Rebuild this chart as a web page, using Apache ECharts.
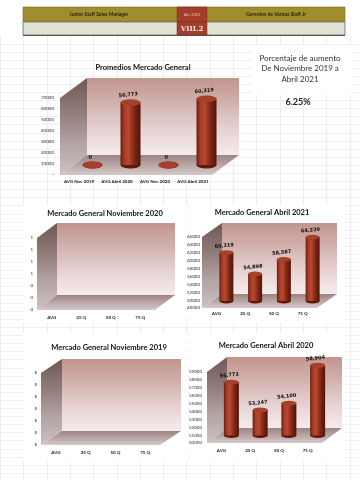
<!DOCTYPE html>
<html><head><meta charset="utf-8">
<script src="https://cdn.jsdelivr.net/npm/echarts@6/dist/echarts.min.js"></script>
<style>html,body{margin:0;padding:0;background:#fff}#c{width:360px;height:480px}</style>
</head><body><div id="c"></div>
<script>
// ---------- data ----------
const catsMain = ['AVG Nov 2019', 'AVG Abril 2020', 'AVG Nov 2020', 'AVG Abril 2021'];
const valsMain = [0, 56773, 0, 60319];
const catsQ = ['AVG', '25 Q', '50 Q', '75 Q'];
const valsNov2020 = [];
const valsAbr2021 = [60319, 54898, 58587, 64239];
const valsNov2019 = [];
const valsAbr2020 = [56773, 53247, 54100, 58904];
const headerLeft = 'Junior Staff Sales Manager';
const headerRight = 'Gerentes de Ventas Staff Jr';
const headerDate = 'Abr 2021';
const headerCode = 'VIII.2';
const boxLines = ['Porcentaje de aumento', 'De Noviembre 2019 a', 'Abril 2021'];
const boxValue = '6.25%';

const FONT = 'Lato, "Liberation Sans", sans-serif';
const chart = echarts.init(document.getElementById('c'), null, {renderer: 'canvas'});

const fmtInt = v => String(v);
const charts = [
  {title: 'Promedios Mercado General', tx: 143, ty: 68, L: 60, T: 98, R: 212, B: 175, dx: 27, dy: -20,
   cats: catsMain, vals: valsMain, min: 0, max: 70000, interval: 10000,
   fmt: v => v === 0 ? '-' : String(v), bw: 20, catMargin: 4, yMargin: 6},
  {title: 'Mercado General Noviembre 2020', tx: 105, ty: 214, L: 37, T: 238, R: 155, B: 310, dx: 20, dy: -15,
   cats: catsQ, vals: valsNov2020, min: 0, max: 1.2, interval: 0.2,
   fmt: v => String(Math.round(v)), bw: 14, catMargin: 5, yMargin: 4, white: [23, 205, 165, 118]},
  {title: 'Mercado General Abril 2021', tx: 262, ty: 213, L: 202, T: 237, R: 317, B: 308, dx: 20, dy: -14,
   cats: catsQ, vals: valsAbr2021, min: 48000, max: 66000, interval: 2000,
   fmt: fmtInt, bw: 14, catMargin: 3, yMargin: 2, white: [190, 205, 155, 118]},
  {title: 'Mercado General Noviembre 2019', tx: 109, ty: 348, L: 41, T: 373, R: 160, B: 445, dx: 21, dy: -14,
   cats: catsQ, vals: valsNov2019, min: 0, max: 6, interval: 1,
   fmt: v => '$', bw: 14, catMargin: 5, yMargin: 4, white: [23, 333, 165, 129]},
  {title: 'Mercado General Abril 2020', tx: 266, ty: 346, L: 207, T: 372, R: 322, B: 443, dx: 20, dy: -15,
   cats: catsQ, vals: valsAbr2020, min: 50000, max: 59000, interval: 1000,
   fmt: fmtInt, bw: 15, catMargin: 5, yMargin: 5, white: [190, 333, 155, 129]}
];

const LG = (x0, y0, x1, y1, stops) => new echarts.graphic.LinearGradient(x0, y0, x1, y1,
  stops.map((c, i) => ({offset: i / (stops.length - 1), color: c})));

const grids = [], xAxes = [], yAxes = [], series = [], graphics = [];

// spreadsheet gridlines (decoration)
for (let k = 0; k <= 16; k++) {
  const x = Math.round(23.3 * k) + 0.5;
  graphics.push({type: 'line', z: 0, shape: {x1: x, y1: 36, x2: x, y2: 480}, style: {stroke: '#ececec', lineWidth: 1}});
}
for (let y = 43.5; y < 480; y += 8.1) {
  const yy = Math.round(y) + 0.5;
  graphics.push({type: 'line', z: 0, shape: {x1: 0, y1: yy, x2: 360, y2: yy}, style: {stroke: '#efefef', lineWidth: 1}});
}

// header
graphics.push(
  {type: 'rect', z: 3, shape: {x: 23, y: 7, width: 322, height: 15}, style: {fill: '#a08d2e', stroke: '#7c6d22', lineWidth: 0.6}},
  {type: 'rect', z: 3, shape: {x: 23, y: 22, width: 322, height: 13}, style: {fill: '#dfe2d3', stroke: '#6a6a6a', lineWidth: 0.8}},
  {type: 'rect', z: 3, shape: {x: 177, y: 7, width: 30, height: 15}, style: {fill: '#a43e2c', stroke: '#7e2c1e', lineWidth: 0.5}},
  {type: 'rect', z: 3, shape: {x: 177, y: 22, width: 30, height: 13}, style: {fill: '#a43e2c', stroke: '#7e2c1e', lineWidth: 0.5}},
  {type: 'line', z: 3, shape: {x1: 23, y1: 35.5, x2: 345, y2: 35.5}, style: {stroke: '#555', lineWidth: 1.2}},
  {type: 'text', z: 4, style: {text: headerLeft, x: 99, y: 14.5, textAlign: 'center', textVerticalAlign: 'middle', font: 'bold 5px ' + FONT, fill: '#2b280e'}},
  {type: 'text', z: 4, style: {text: headerRight, x: 276, y: 14.5, textAlign: 'center', textVerticalAlign: 'middle', font: 'bold 5px ' + FONT, fill: '#2b280e'}},
  {type: 'text', z: 4, style: {text: headerDate, x: 192, y: 14.5, textAlign: 'center', textVerticalAlign: 'middle', font: '4px ' + FONT, fill: '#e9c1b3'}},
  {type: 'text', z: 4, style: {text: headerCode, x: 192, y: 29, textAlign: 'center', textVerticalAlign: 'middle', font: 'bold 7px "DejaVu Serif", "Liberation Serif", serif', fill: '#f4e7e0'}}
);

// text box
graphics.push({type: 'rect', z: 1, shape: {x: 253, y: 45, width: 100, height: 50}, style: {fill: '#fff'}});
boxLines.forEach((t, i) => graphics.push({type: 'text', z: 4, style: {text: t, x: 300, y: 58 + i * 10.5, textAlign: 'center', textVerticalAlign: 'middle', font: '8px ' + FONT, fill: '#333'}}));
graphics.push({type: 'text', z: 4, style: {text: boxValue, x: 298, y: 102, textAlign: 'center', textVerticalAlign: 'middle', font: 'bold 9px ' + FONT, fill: '#222'}});

charts.forEach((c, i) => {
  const W = c.R - c.L, H = c.B - c.T;
  if (c.white) graphics.push({type: 'rect', z: 1, shape: {x: c.white[0], y: c.white[1], width: c.white[2], height: c.white[3]}, style: {fill: '#fff'}});
  // walls
  graphics.push(
    {type: 'rect', z: 2, shape: {x: c.L + c.dx, y: c.T + c.dy, width: W, height: H},
     style: {fill: LG(0, 0, 0, 1, ['#c2958f', '#d3b2ae', '#e6d2d1', '#f6ecec'])}},
    {type: 'polygon', z: 2, shape: {points: [[c.L, c.T], [c.L + c.dx, c.T + c.dy], [c.L + c.dx, c.B + c.dy], [c.L, c.B]]},
     style: {fill: LG(0, 0, 0, 1, ['#6e5856', '#8f7a78', '#b3a3a3', '#cdc1c1'])}},
    {type: 'polygon', z: 2, shape: {points: [[c.L, c.B], [c.L + c.dx, c.B + c.dy], [c.R + c.dx, c.B + c.dy], [c.R, c.B]]},
     style: {fill: LG(0, 0, 0, 1, ['#9c8483', '#b9a6a5', '#d6c9c9'])}},
    {type: 'text', z: 4, style: {text: c.title, x: c.tx, y: c.ty, textAlign: 'center', textVerticalAlign: 'middle', font: 'bold 7.5px ' + FONT, fill: '#111'}}
  );
  // front grid (visible axes)
  grids.push({left: c.L, top: c.T, width: W, height: H, containLabel: false, outerBoundsMode: 'none'});
  const gFront = grids.length - 1;
  xAxes.push({gridIndex: gFront, type: 'category', data: c.cats, z: 6,
    axisLine: {show: false}, axisTick: {show: false}, splitLine: {show: false},
    axisLabel: {interval: 0, fontSize: 4.5, margin: c.catMargin, color: '#222', fontFamily: FONT, fontWeight: 'bold'}});
  yAxes.push({gridIndex: gFront, type: 'value', min: c.min, max: c.max, interval: c.interval, z: 6,
    axisLine: {show: false}, axisTick: {show: false}, splitLine: {show: false},
    axisLabel: {fontSize: 4.5, margin: c.yMargin, color: '#333', fontFamily: FONT, formatter: c.fmt}});
  // bar grid at mid depth (hidden axes)
  grids.push({left: c.L + c.dx / 2, top: c.T + c.dy / 2, width: W, height: H, containLabel: false, outerBoundsMode: 'none'});
  const gBar = grids.length - 1;
  xAxes.push({gridIndex: gBar, type: 'category', data: c.cats, show: false});
  yAxes.push({gridIndex: gBar, type: 'value', min: c.min, max: c.max, interval: c.interval, show: false, splitLine: {show: false}});
  if (!c.vals.length) return;
  const eh = c.bw * 0.34;
  series.push(
    {type: 'pictorialBar', xAxisIndex: gBar, yAxisIndex: gBar, z: 4, silent: true,
     data: c.vals.map(() => c.min), symbol: 'circle', symbolSize: [c.bw, eh], symbolPosition: 'end', symbolOffset: [0, '-50%'],
     itemStyle: {color: '#5e190c'}},
    {type: 'bar', xAxisIndex: gBar, yAxisIndex: gBar, z: 5, clip: true, barWidth: c.bw, data: c.vals,
     itemStyle: {color: LG(0, 0, 1, 0, ['#6a1e10', '#a83d27', '#b8492f', '#94301c', '#6d1f11', '#521409'])},
     label: {show: true, position: 'top', distance: eh / 2 + 2, offset: [-2, 0], rotate: 6,
       formatter: p => Number(p.value).toLocaleString('en-US'),
       fontSize: 5, fontWeight: 'bold', fontFamily: '"DejaVu Sans", sans-serif', color: '#111'}},
    {type: 'pictorialBar', xAxisIndex: gBar, yAxisIndex: gBar, z: 6, silent: true,
     data: c.vals, symbol: 'circle', symbolSize: [c.bw, eh], symbolPosition: 'end', symbolOffset: [0, '-50%'],
     itemStyle: {color: '#a5412a', borderColor: '#6b1f10', borderWidth: 0.5}}
  );
});

chart.setOption({
  animation: false,
  backgroundColor: '#fff',
  grid: grids, xAxis: xAxes, yAxis: yAxes, series: series,
  graphic: {elements: graphics}
});
</script></body></html>
